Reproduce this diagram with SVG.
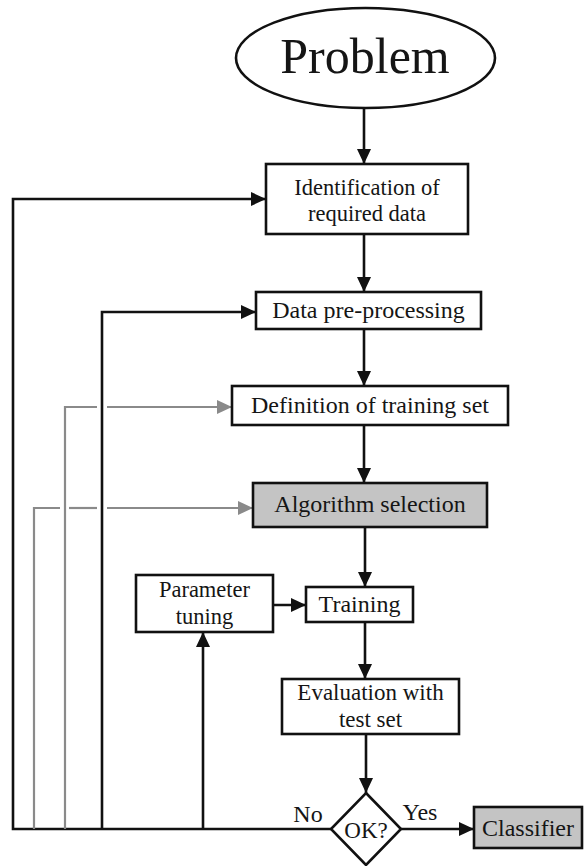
<svg xmlns="http://www.w3.org/2000/svg" width="584" height="866" viewBox="0 0 584 866">
<defs>
<style>
.box{fill:#fff;stroke:#111;stroke-width:2.6}
.shaded{fill:#c4c4c4;stroke:#111;stroke-width:2.6}
.t{font-family:"Liberation Serif","Times New Roman",serif;font-size:24px;fill:#151515;text-anchor:middle}
.c{fill:none;stroke:#111;stroke-width:2.6}
.g{fill:none;stroke:#8a8a8a;stroke-width:2.2}
</style>
<marker id="ah" viewBox="0 0 15 14" refX="15" refY="7" markerWidth="15" markerHeight="14" markerUnits="userSpaceOnUse" orient="auto">
<path d="M0,0 L15,7 L0,14 z" fill="#111"/>
</marker>
<marker id="ahg" viewBox="0 0 15 14" refX="15" refY="7" markerWidth="15" markerHeight="14" markerUnits="userSpaceOnUse" orient="auto">
<path d="M0,0 L15,7 L0,14 z" fill="#8a8a8a"/>
</marker>
</defs>
<g id="connectors">
<line class="c" x1="364" y1="108" x2="364" y2="164" marker-end="url(#ah)"/>
<line class="c" x1="364" y1="234" x2="364" y2="292" marker-end="url(#ah)"/>
<line class="c" x1="364" y1="329" x2="364" y2="386" marker-end="url(#ah)"/>
<line class="c" x1="364" y1="425" x2="364" y2="483" marker-end="url(#ah)"/>
<line class="c" x1="365" y1="527" x2="365" y2="587" marker-end="url(#ah)"/>
<line class="c" x1="365" y1="622" x2="365" y2="679" marker-end="url(#ah)"/>
<line class="c" x1="366" y1="734" x2="366" y2="793" marker-end="url(#ah)"/>
<line class="c" x1="273" y1="605" x2="306" y2="605" marker-end="url(#ah)"/>
<line class="c" x1="401" y1="829" x2="474" y2="829" marker-end="url(#ah)"/>
<polyline class="c" points="331,829 13,829 13,199 266,199" marker-end="url(#ah)"/>
<polyline class="c" points="102,829 102,312 256,312" marker-end="url(#ah)"/>
<line class="c" x1="203" y1="829" x2="203" y2="632" marker-end="url(#ah)"/>
<polyline class="g" points="34,829 34,508 60,508"/>
<line class="g" x1="69" y1="508" x2="97" y2="508"/>
<line class="g" x1="107" y1="508" x2="253" y2="508" marker-end="url(#ahg)"/>
<polyline class="g" points="65,829 65,407 97,407"/>
<line class="g" x1="107" y1="407" x2="232" y2="407" marker-end="url(#ahg)"/>
</g>
<g id="problem">
<ellipse cx="365.5" cy="58" rx="129.5" ry="50" class="box"/>
<text x="365" y="73" class="t" style="font-size:50px">Problem</text>
</g>
<g id="identification">
<rect x="266" y="164" width="202" height="70" class="box"/>
<text x="367" y="195" class="t" style="font-size:22.5px">Identification of</text>
<text x="367" y="221" class="t" style="font-size:22.5px">required data</text>
</g>
<g id="preprocessing">
<rect x="256" y="292" width="225" height="37" class="box"/>
<text x="368.5" y="318" class="t">Data pre-processing</text>
</g>
<g id="trainingset">
<rect x="232" y="386" width="276" height="39" class="box"/>
<text x="370" y="413" class="t">Definition of training set</text>
</g>
<g id="algorithm">
<rect x="253" y="483" width="234" height="44" class="shaded"/>
<text x="370" y="512" class="t">Algorithm selection</text>
</g>
<g id="parameter">
<rect x="136" y="575" width="137" height="57" class="box"/>
<text x="204.5" y="597" class="t" style="font-size:22.5px">Parameter</text>
<text x="204.5" y="624" class="t" style="font-size:22.5px">tuning</text>
</g>
<g id="training">
<rect x="306" y="587" width="107" height="35" class="box"/>
<text x="359.5" y="612" class="t">Training</text>
</g>
<g id="evaluation">
<rect x="282" y="679" width="177" height="55" class="box"/>
<text x="370.5" y="700" class="t" style="font-size:23px">Evaluation with</text>
<text x="370.5" y="727" class="t" style="font-size:23px">test set</text>
</g>
<g id="decision">
<polygon points="366,793 401,829 366,865 331,829" class="box"/>
<text x="366" y="838" class="t" style="font-size:23px">OK?</text>
<text x="308" y="822" class="t">No</text>
<text x="420" y="820" class="t">Yes</text>
</g>
<g id="classifier">
<rect x="474" y="807" width="108" height="41" class="shaded"/>
<text x="528" y="836" class="t">Classifier</text>
</g>
</svg>
